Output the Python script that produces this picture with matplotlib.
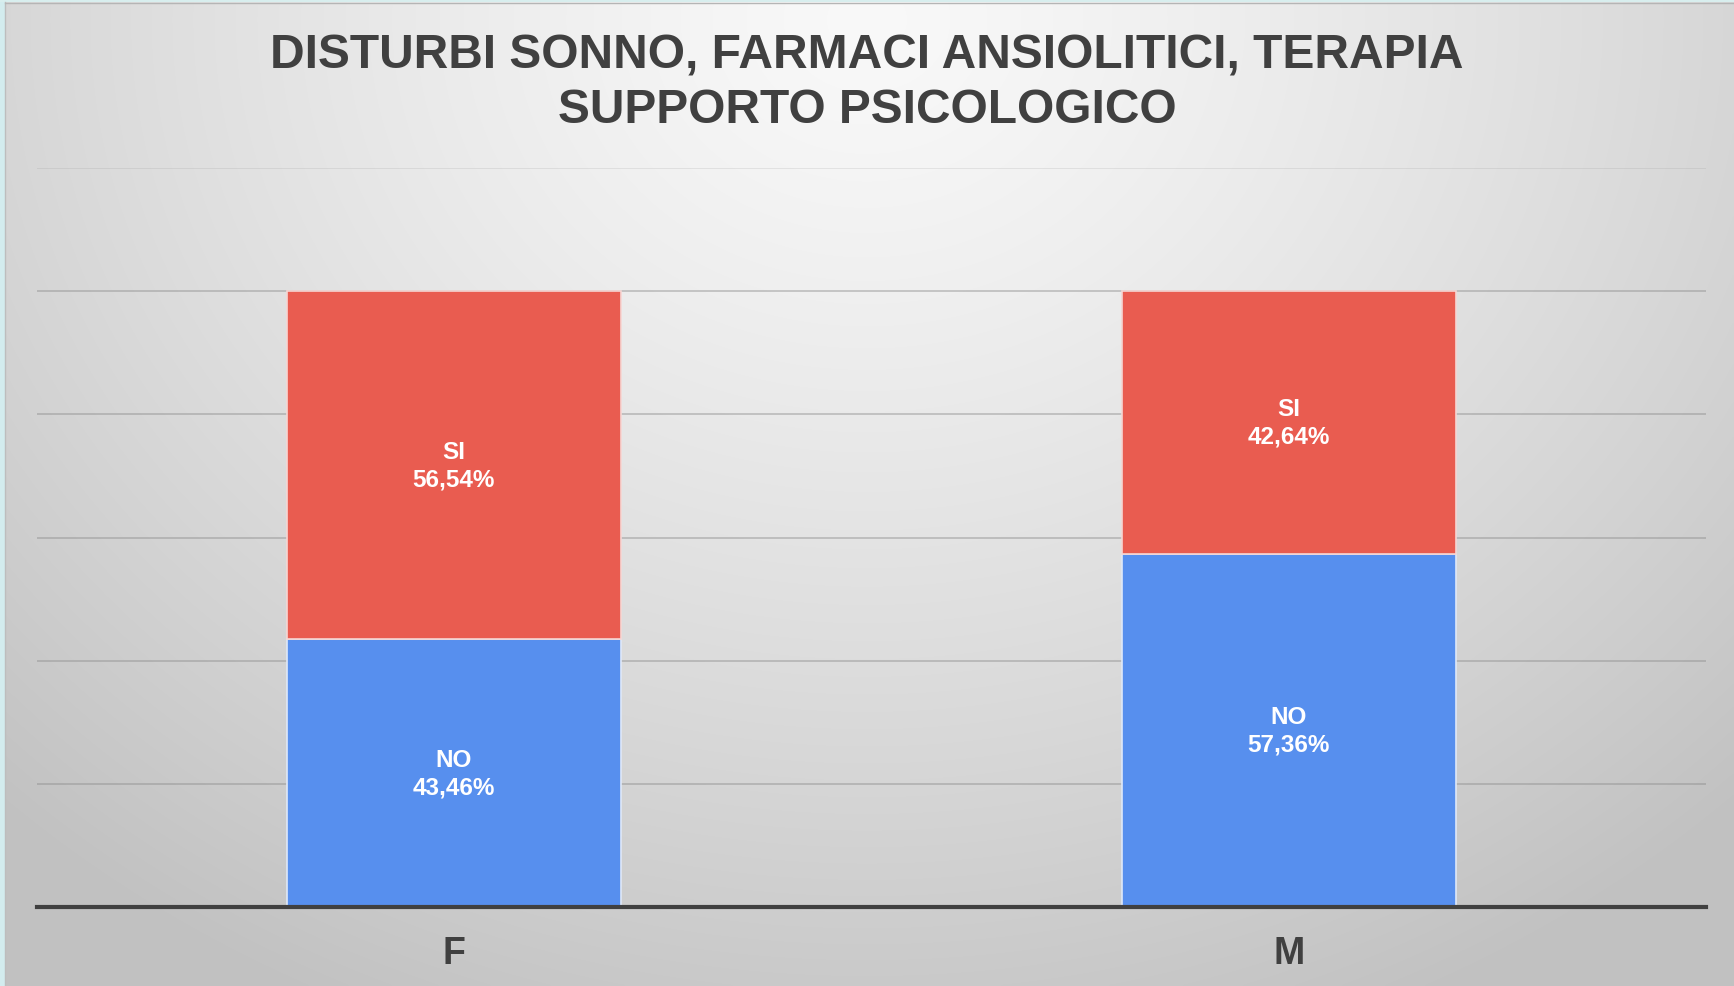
import numpy as np
import matplotlib.pyplot as plt
from matplotlib.patches import Rectangle

plt.rcParams['font.family'] = ['Liberation Sans', 'DejaVu Sans']

categories = ['F', 'M']
no_values = [43.46, 57.36]
si_values = [56.54, 42.64]
series_names = ['NO', 'SI']
title = 'DISTURBI SONNO, FARMACI ANSIOLITICI, TERAPIA\nSUPPORTO PSICOLOGICO'

blue = '#578FEE'
red = '#E95C50'
dark = '#404040'

W, H = 1734, 987
fig = plt.figure(figsize=(W / 100, H / 100), dpi=100)

# sfondo con sfumatura radiale (chiaro in alto al centro)
bg = fig.add_axes([0, 0, 1, 1], zorder=-10)
yy, xx = np.mgrid[0:1:400j, 0:1:700j]
r = np.sqrt(((xx - 0.5) / 0.72) ** 2 + ((yy - 0.02) / 1.1) ** 2)
r = np.clip(r, 0, 1)
shade = 0.975 - 0.215 * r ** 1.3
bg.imshow(np.dstack([shade] * 3), extent=[0, 1, 0, 1], origin='upper',
          aspect='auto', interpolation='bilinear')
bg.set_xlim(0, 1)
bg.set_ylim(0, 1)
bg.axis('off')

# bordo ciano a sinistra e in alto
fig.patches.append(Rectangle((0, 0), 5 / W, 1, transform=fig.transFigure,
                             facecolor='#d3ecee', edgecolor='none', zorder=5))
fig.patches.append(Rectangle((0, 1 - 3 / H), 1, 3 / H, transform=fig.transFigure,
                             facecolor='#d8eeee', edgecolor='none', zorder=5))
fig.lines.append(plt.Line2D([5 / W, 5 / W], [0, 1 - 3 / H], transform=fig.transFigure,
                            color='#bdbdbd', lw=1, zorder=6))
fig.lines.append(plt.Line2D([5 / W, 1], [1 - 3.5 / H, 1 - 3.5 / H], transform=fig.transFigure,
                            color='#b5b5b5', lw=1, zorder=6))

left, right = 36.5 / W, 1706 / W
bottom, top = 1 - 908 / H, 1 - 169 / H
ax = fig.add_axes([left, bottom, right - left, top - bottom])
ax.patch.set_alpha(0)

x = np.arange(len(categories))
no = np.array(no_values) / 100
si = np.array(si_values) / 100
b1 = ax.bar(x, no, width=0.4, color=blue, edgecolor='#dfe8f8', linewidth=1.2, zorder=3)
b2 = ax.bar(x, si, width=0.4, bottom=no, color=red, edgecolor='#f6d6d3', linewidth=1.2, zorder=3)

for bars, vals, bots, name in [(b1, no_values, np.zeros(2), 'NO'), (b2, si_values, no, 'SI')]:
    for rect, v, b in zip(bars, vals, bots):
        cx = rect.get_x() + rect.get_width() / 2
        cy = b + rect.get_height() / 2
        ax.text(cx, cy, f'{name}\n{v:.2f}%'.replace('.', ','), ha='center', va='center',
                color='white', fontsize=17.5, fontweight='bold', linespacing=1.25, zorder=4)

ax.set_xlim(-0.5, 1.5)
ax.set_ylim(0, 1.2)
ax.set_yticks(np.arange(0, 1.21, 0.2))
ax.yaxis.grid(True, color='#8c8c8c', alpha=0.5, lw=1.2, zorder=0)
ax.get_ygridlines()[-1].set_alpha(0.2)
ax.set_yticklabels([])
ax.tick_params(axis='y', length=0)
ax.set_xticks(x)
ax.set_xticklabels(categories, fontsize=27, fontweight='bold', color=dark)
ax.tick_params(axis='x', length=0, pad=20)
for s in ['left', 'right', 'top']:
    ax.spines[s].set_visible(False)
ax.spines['bottom'].set_color(dark)
ax.spines['bottom'].set_linewidth(3)
ax.spines['bottom'].set_zorder(5)

fig.text(0.5, 1 - 83 / H, title, ha='center', va='center', fontsize=34.5,
         fontweight='bold', color=dark, linespacing=1.26)

fig.savefig('out.png', dpi=100)
